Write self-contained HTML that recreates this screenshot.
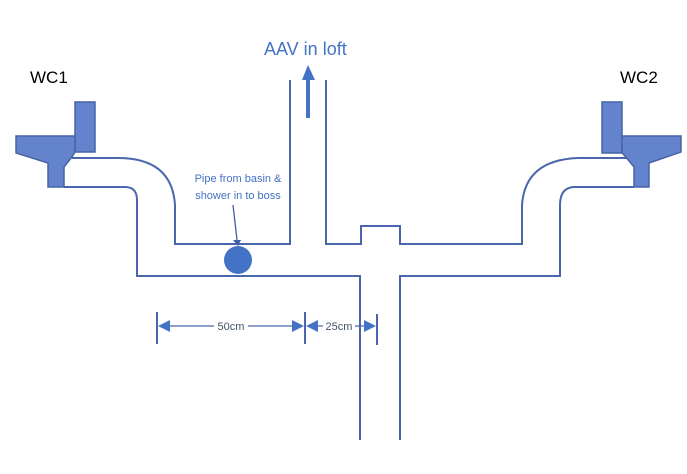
<!DOCTYPE html>
<html><head><style>
body{margin:0;background:#fff;width:687px;height:474px;overflow:hidden}
svg{display:block}
</style></head><body>
<svg width="687" height="474" viewBox="0 0 687 474" xmlns="http://www.w3.org/2000/svg" font-family="'Liberation Sans', 'DejaVu Sans', sans-serif">
<g fill="none" stroke="#4a67ad" stroke-width="2">
<path d="M72 158 H118 Q172 158 175 205 V244 H290 V80"/>
<path d="M64 187 H125 Q137 187 137 200 V276 H360 V440"/>
<path d="M326 80 V244 H361 V226 H400 V244 H522 V205 Q525 160 578 158 H632"/>
<path d="M400 440 V276 H560 V205 Q560 187 575 187 H634"/>
</g>
<g fill="#6384cc" stroke="#4763a8" stroke-width="1.5">
<rect x="75" y="102" width="20" height="50"/>
<path d="M16 136 H75 V152 L72 157 L64 167 V187 H48 V163 L16 153 Z"/>
<rect x="602" y="102" width="20" height="51"/>
<path d="M681 136 H622 V153 L625 156 L634 167 V187 H649 V163 L681 152 Z"/>
</g>
<circle cx="238" cy="260" r="14" fill="#4472c4"/>
<line x1="233" y1="205" x2="237" y2="240" stroke="#3f5fa6" stroke-width="1.3"/>
<path d="M233 240 L241 240 L238 246 Z" fill="#3f5fa6"/>
<line x1="308" y1="118" x2="308" y2="78" stroke="#4472c4" stroke-width="4"/>
<path d="M302 80 L315 80 L308 65 Z" fill="#4472c4"/>
<g stroke="#4a67ad" stroke-width="2">
<line x1="157" y1="312" x2="157" y2="344"/>
<line x1="305" y1="312" x2="305" y2="344"/>
<line x1="377" y1="314" x2="377" y2="345"/>
<line x1="160" y1="326" x2="214" y2="326" stroke-width="1.2"/>
<line x1="248" y1="326" x2="302" y2="326" stroke-width="1.2"/>
<line x1="308" y1="326" x2="323" y2="326" stroke-width="1.2"/>
<line x1="355" y1="326" x2="374" y2="326" stroke-width="1.2"/>
</g>
<g fill="#4472c4">
<path d="M158 326 L170 320 L170 332 Z"/>
<path d="M304 326 L292 320 L292 332 Z"/>
<path d="M306 326 L318 320 L318 332 Z"/>
<path d="M376 326 L364 320 L364 332 Z"/>
</g>
<g fill="#44546a" font-size="11">
<text x="231" y="330" text-anchor="middle">50cm</text>
<text x="339" y="330" text-anchor="middle">25cm</text>
</g>
<g fill="#4472c4" font-size="11" text-anchor="middle">
<text x="238" y="182">Pipe from basin &amp;</text>
<text x="238" y="199">shower in to boss</text>
</g>
<text x="264" y="55" fill="#4472c4" font-size="18">AAV in loft</text>
<text x="30" y="83" fill="#000" font-size="17">WC1</text>
<text x="620" y="83" fill="#000" font-size="17">WC2</text>
</svg>
</body></html>
